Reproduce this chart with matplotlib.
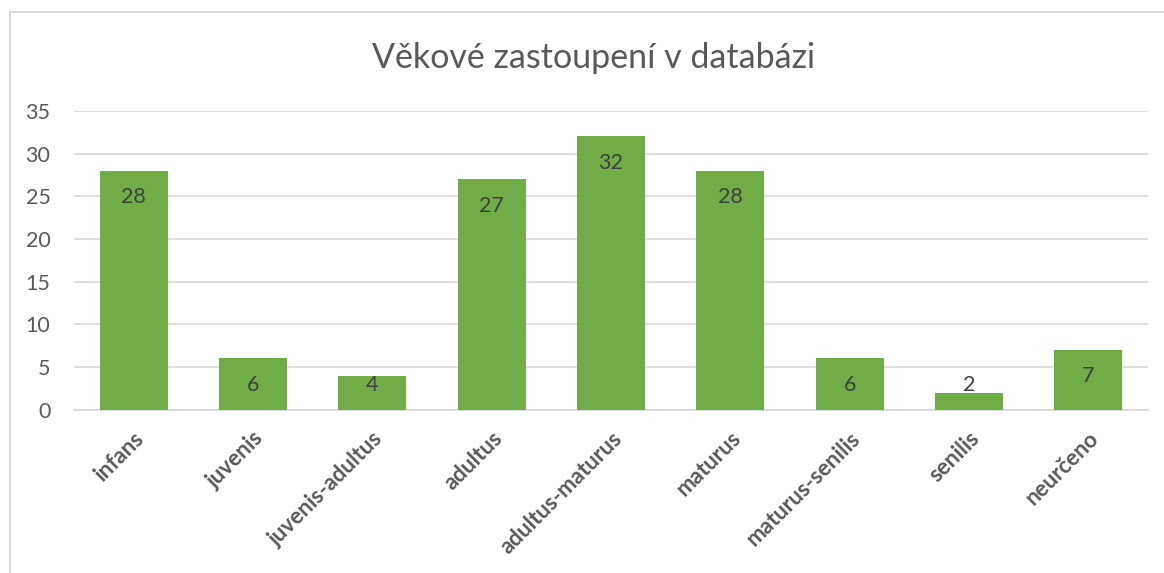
import matplotlib.pyplot as plt
from matplotlib.lines import Line2D

categories = ["infans", "juvenis", "juvenis-adultus", "adultus", "adultus-maturus",
              "maturus", "maturus-senilis", "senilis", "neurčeno"]
counts = [28, 6, 4, 27, 32, 28, 6, 2, 7]
yticks = [0, 5, 10, 15, 20, 25, 30, 35]

plt.rcParams['font.family'] = ['Lato', 'DejaVu Sans']

fig = plt.figure(figsize=(11.64, 5.73), dpi=100)
ax = fig.add_axes([0.0636, 0.285, 0.9227, 0.5215])

x = range(len(categories))
ax.bar(x, counts, width=0.57, color="#70AD47", zorder=3)

# data labels inside the bar end, kept above the axis for short bars
for i, v in enumerate(counts):
    ax.text(i, max(v - 3.1, 2.95), str(v), ha="center", va="center",
            fontsize=15.5, color="#404040", zorder=4)

ax.set_xlim(-0.5, len(categories) - 0.5)
ax.set_ylim(0, 35)
ax.set_yticks(yticks)
ax.set_xticks(list(x))
ax.set_xticklabels(categories, rotation=45, ha="right", rotation_mode="anchor",
                   fontsize=16, fontweight="bold", color="#595959")
ax.tick_params(axis="y", length=0, pad=17, labelsize=15.5, labelcolor="#595959")
ax.tick_params(axis="x", length=0, pad=13)

ax.grid(axis="y", color="#D9D9D9", linewidth=1.2, zorder=0)
for s in ["top", "right", "left"]:
    ax.spines[s].set_visible(False)
ax.spines["bottom"].set_color("#D9D9D9")
ax.spines["bottom"].set_linewidth(1.2)

fig.text(0.51, 0.898, "Věkové zastoupení v databázi", ha="center", va="center",
         fontsize=24.5, color="#595959")

# chart area border (left and top visible)
fig.add_artist(Line2D([10 / 1164, 10 / 1164], [0, 1 - 12 / 573],
                      transform=fig.transFigure, color="#D9D9D9", linewidth=1.5))
fig.add_artist(Line2D([10 / 1164, 1], [1 - 12 / 573, 1 - 12 / 573],
                      transform=fig.transFigure, color="#D9D9D9", linewidth=1.5))

fig.savefig("out.png", dpi=100)
